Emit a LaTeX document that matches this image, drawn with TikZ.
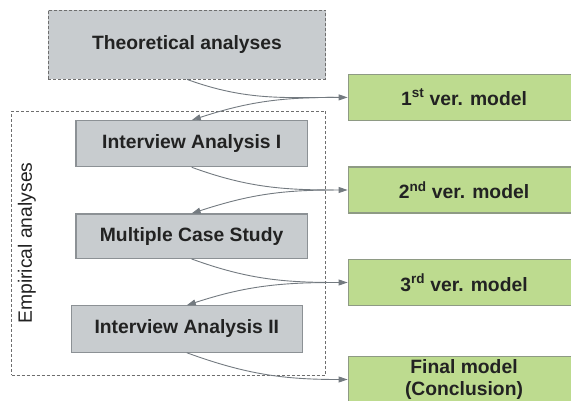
\documentclass[tikz,border=0pt]{standalone}
\usepackage{fontspec}
\setmainfont{Liberation Sans}
\usetikzlibrary{arrows.meta}
\definecolor{grayfill}{HTML}{C8CCCF}
\definecolor{grayedge}{HTML}{8C9195}
\definecolor{greenfill}{HTML}{BDDB8F}
\definecolor{greenedge}{HTML}{8E9A84}
\definecolor{txt}{HTML}{222222}
\definecolor{conncol}{HTML}{737A80}
\definecolor{dashcol}{HTML}{6E6E6E}
\tikzset{
  graybox/.style={draw=grayedge, line width=1.2pt, fill=grayfill, rectangle, inner sep=0pt,
    font=\fontsize{19.3}{23}\selectfont\bfseries, text=txt, align=center},
  theobox/.style={graybox, draw=dashcol, line width=0.8pt, dash pattern=on 3pt off 2pt},
  greenbox/.style={draw=greenedge, line width=1.4pt, fill=greenfill, rectangle, inner sep=0pt,
    minimum width=231.4pt, minimum height=46pt,
    font=\fontsize{19.3}{22}\selectfont\bfseries, text=txt, align=center},
  container/.style={draw=dashcol, line width=0.8pt, dash pattern=on 3pt off 2pt, rectangle, inner sep=0pt},
  conn/.style={draw=conncol, line width=0.9pt, -{Triangle[length=9pt,width=6pt]}},
  sidelabel/.style={font=\fontsize{19.3}{23}\selectfont, text=txt, rotate=90}
}
\begin{document}
\begin{tikzpicture}[x=1pt,y=-1pt]
\useasboundingbox (0,0) rectangle (571,400);
\clip (0,0) rectangle (571,400);
\node[container, minimum width=314pt, minimum height=264pt] (emp) at (168.7,243) {};
\node[sidelabel] (emplabel) at (27,243) {Empirical analyses};
\node[theobox, minimum width=277.4pt, minimum height=69pt] (theo) at (187,44.5) {Theoretical analyses};
\node[graybox, minimum width=231.7pt, minimum height=46pt] (ia1) at (191.8,143.7) {Interview Analysis I};
\node[graybox, minimum width=231.2pt, minimum height=44.3pt] (mcs) at (191.6,236.2) {Multiple Case Study};
\node[graybox, minimum width=231pt, minimum height=46.3pt] (ia2) at (186.8,329) {Interview Analysis II};
\node[greenbox] (m1) at (464,97.4) {1\textsuperscript{st} ver. model};
\node[greenbox] (m2) at (464,190) {2\textsuperscript{nd} ver. model};
\node[greenbox] (m3) at (464,282.5) {3\textsuperscript{rd} ver. model};
\node[greenbox] (m4) at (464,379.5) {Final model\\(Conclusion)};
\draw[conn] (theo.south) to[out=-20,in=180] (m1.west);
\draw[conn] ([xshift=-14pt]m1.west) to[out=180,in=18] (ia1.north);
\draw[conn] (ia1.south) to[out=-20,in=180] (m2.west);
\draw[conn] ([xshift=-14pt]m2.west) to[out=180,in=18] (mcs.north);
\draw[conn] (mcs.south) to[out=-20,in=180] (m3.west);
\draw[conn] ([xshift=-14pt]m3.west) to[out=180,in=18] (ia2.north);
\draw[conn] (ia2.south) to[out=-20,in=180] (m4.west);
\end{tikzpicture}
\end{document}
